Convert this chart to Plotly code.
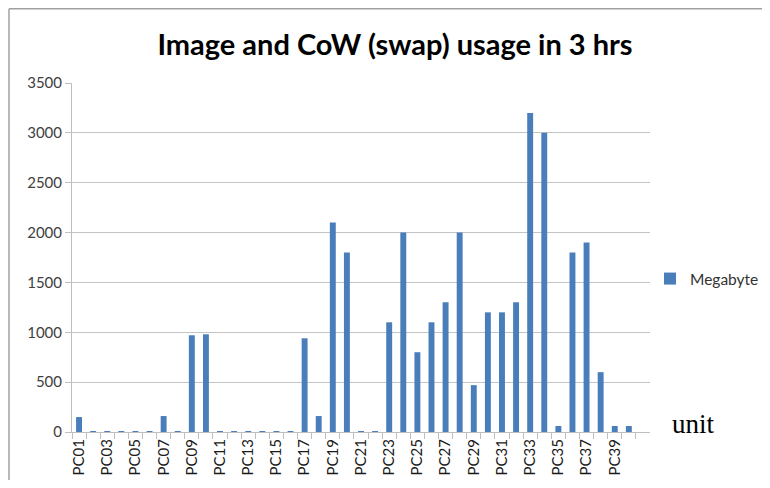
import plotly.graph_objects as go

categories = [f"PC{i:02d}" for i in range(1, 41)]
megabyte = [150, 10, 10, 10, 10, 10, 160, 10, 970, 980,
            10, 10, 10, 10, 10, 10, 940, 160, 2100, 1800,
            10, 10, 1100, 2000, 800, 1100, 1300, 2000, 470, 1200,
            1200, 1300, 3200, 3000, 60, 1800, 1900, 600, 60, 60]
y_ticks = [0, 500, 1000, 1500, 2000, 2500, 3000, 3500]

xpos = list(range(1, len(categories) + 1))
label_pos = xpos[::2]
label_text = categories[::2]

# figure is drawn 8px in from the page edge (default body margin);
# sized so that the page does not overflow the window
W, H = 754, 472
L, T = 64, 75
PW, PH = 578, 349
R, B = W - L - PW, H - T - PH

fig = go.Figure()
fig.add_trace(go.Bar(
    x=xpos, y=megabyte, name="Megabyte",
    marker=dict(color="#4a7ebb", line=dict(width=0)),
    width=0.42,
))

fig.update_layout(
    width=W, height=H,
    margin=dict(l=L, r=R, t=T, b=B, autoexpand=False),
    paper_bgcolor="white", plot_bgcolor="white",
    title=dict(text="<b>Image and CoW (swap) usage in 3 hrs</b>",
               x=387 / W, xanchor="center", y=1 - 37 / H, yanchor="middle",
               font=dict(family="Lato", size=29, color="#000000")),
    showlegend=True,
    legend=dict(x=(642 - L) / PW, xanchor="left",
                y=(T + PH - 271) / PH, yanchor="middle",
                font=dict(family="Lato", size=15.5, color="#333333"),
                bgcolor="rgba(0,0,0,0)", itemwidth=30),
)

fig.update_xaxes(
    range=[0.5, 41.5],
    tickmode="array", tickvals=label_pos, ticktext=label_text,
    tickangle=-90, ticks="",
    tickfont=dict(family="Lato", size=15, color="#1a1a1a"),
    showline=True, linecolor="#bfbfbf", linewidth=1,
    showgrid=False, zeroline=False,
    minor=dict(tickmode="array", tickvals=[i + 0.5 for i in range(0, 41)],
               ticks="outside", ticklen=6, tickcolor="#bfbfbf", tickwidth=1,
               showgrid=False),
)
fig.update_yaxes(
    range=[0, 3500],
    tickmode="array", tickvals=y_ticks,
    ticks="outside", ticklen=6, tickcolor="#bfbfbf",
    tickfont=dict(family="Lato", size=15, color="#404040"),
    showline=True, linecolor="#bfbfbf", linewidth=1,
    showgrid=True, gridcolor="#c4c4c4", gridwidth=1,
    zeroline=False,
)

fig.add_annotation(
    text="unit", xref="paper", yref="paper",
    x=(685 - L) / PW, y=(T + PH - 416) / PH, xanchor="center", yanchor="middle",
    showarrow=False,
    font=dict(family="Liberation Serif", size=27, color="#000000"),
)

# outer chart frame (left and top edges visible)
fx0 = (1 - L) / PW
fy1 = (T + PH - 0.75) / PH
fig.add_shape(type="line", xref="paper", yref="paper",
              x0=fx0, x1=fx0, y0=-B / PH, y1=fy1,
              line=dict(color="#a0a0a0", width=1.5), layer="below")
fig.add_shape(type="line", xref="paper", yref="paper",
              x0=fx0, x1=(W - L) / PW, y0=fy1, y1=fy1,
              line=dict(color="#a0a0a0", width=1.5), layer="below")

fig.write_html("out.html")
